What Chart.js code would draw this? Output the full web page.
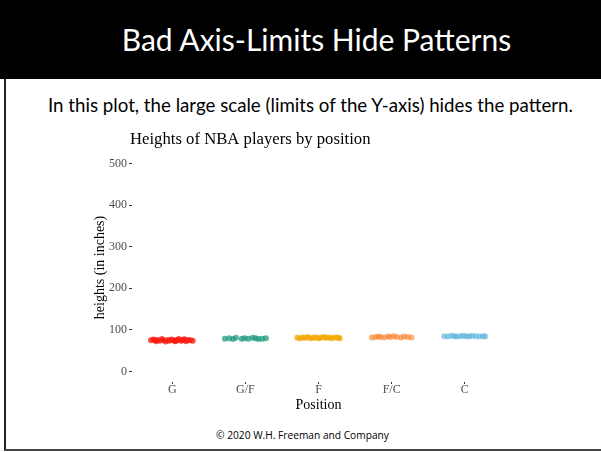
<!DOCTYPE html>
<html>
<head>
<title>Bad Axis-Limits Hide Patterns</title>
<script src="https://cdn.jsdelivr.net/npm/chart.js"></script>
<style>
  body { margin: 0; width: 601px; height: 452px; position: relative; overflow: hidden; background: #fff; font-family: Lato, "Open Sans", sans-serif; }
  #head { position: absolute; left: 0; top: 0; width: 601px; height: 79px; background: #000; }
  #headText { position: absolute; left: 16px; top: 0; width: 601px; height: 79px; line-height: 79px; text-align: center; color: #fff; font-size: 30px; }
  #sub { position: absolute; left: 10px; top: 94px; width: 601px; text-align: center; font-size: 18.7px; color: #000; }
  #foot { position: absolute; left: 2px; top: 428px; width: 601px; text-align: center; font-size: 10.2px; font-family: "Open Sans", sans-serif; color: #000; }
  #leftLine { position: absolute; left: 4px; top: 79px; width: 2px; height: 372px; background: #222; }
  #bottomLine { position: absolute; left: 4px; top: 449px; width: 597px; height: 2px; background: #444; }
  #wrap { position: absolute; left: 86px; top: 126px; width: 423px; height: 292px; }
</style>
</head>
<body>
  <div id="head"></div>
  <div id="headText">Bad Axis-Limits Hide Patterns</div>
  <div id="sub">In this plot, the large scale (limits of the Y-axis) hides the pattern.</div>
  <div id="leftLine"></div>
  <div id="bottomLine"></div>
  <div id="wrap"><canvas id="myChart"></canvas></div>
  <div id="foot">© 2020 W.H. Freeman and Company</div>
<script>
  const chartTitle = 'Heights of NBA players by position';
  const positions = ['G', 'G/F', 'F', 'F/C', 'C'];
  const yTicks = [0, 100, 200, 300, 400, 500];

  // horizontal jitter (in category units) and heights (inches) per position
  const gJitter  = [-0.29, -0.26, -0.22, -0.2, -0.17, -0.14, -0.12, -0.09, -0.06, -0.04, -0.01, 0.02, 0.04, 0.07, 0.09, 0.12, 0.14, 0.17, 0.19, 0.22, 0.25, 0.28, -0.24, 0.05, 0.16];
  const gHeights = [75, 77, 73, 76, 74, 78, 75, 72, 76, 74, 77, 75, 73, 76, 78, 74, 75, 77, 73, 76, 75, 74, 76, 74, 77];
  const gfJitter  = [-0.28, -0.22, -0.17, -0.13, -0.05, -0.01, 0.04, 0.1, 0.14, 0.18, 0.23, 0.28];
  const gfHeights = [79, 80, 78, 81, 79, 80, 79, 81, 80, 78, 79, 80];
  const fJitter  = [-0.29, -0.25, -0.21, -0.18, -0.14, -0.11, -0.07, -0.04, 0, 0.03, 0.07, 0.1, 0.13, 0.17, 0.2, 0.24, 0.27, 0.29];
  const fHeights = [81, 80, 82, 81, 83, 80, 81, 82, 80, 81, 83, 81, 82, 80, 81, 82, 81, 80];
  const fcJitter  = [-0.27, -0.22, -0.18, -0.15, -0.1, -0.05, -0.02, 0.03, 0.07, 0.13, 0.17, 0.22, 0.27];
  const fcHeights = [82, 83, 84, 83, 82, 84, 83, 85, 83, 82, 84, 83, 82];
  const cJitter  = [-0.28, -0.23, -0.18, -0.14, -0.11, -0.06, -0.02, 0.02, 0.06, 0.1, 0.15, 0.2, 0.25, 0.28];
  const cHeights = [85, 84, 86, 85, 84, 85, 86, 85, 84, 86, 85, 84, 85, 84];

  const colors = ['rgba(250,25,15,0.75)', 'rgba(20,150,120,0.7)', 'rgba(243,165,0,0.75)', 'rgba(248,125,35,0.6)', 'rgba(80,175,215,0.6)'];
  const jitters = [gJitter, gfJitter, fJitter, fcJitter, cJitter];
  const heights = [gHeights, gfHeights, fHeights, fcHeights, cHeights];

  const serif = '"Liberation Serif", "Times New Roman", serif';

  const panelTitle = {
    id: 'panelTitle',
    afterDraw(chart) {
      const ctx = chart.ctx;
      ctx.save();
      ctx.font = '16.7px ' + serif;
      ctx.fillStyle = '#000';
      ctx.textBaseline = 'middle';
      ctx.fillText(chartTitle, chart.chartArea.left - 2, 14);
      ctx.restore();
    }
  };

  const ctx = document.getElementById('myChart').getContext('2d');
  new Chart(ctx, {
    type: 'scatter',
    data: {
      datasets: positions.map((p, i) => ({
        label: p,
        data: heights[i].map((h, k) => ({ x: i + 1 + jitters[i][k], y: h })),
        backgroundColor: colors[i],
        borderWidth: 0,
        pointRadius: 3
      }))
    },
    options: {
      responsive: true,
      maintainAspectRatio: false,
      animation: false,
      layout: { padding: { top: 27, right: 0, left: 0, bottom: 0 } },
      plugins: { legend: { display: false }, tooltip: { enabled: false } },
      scales: {
        x: {
          type: 'linear',
          min: 0.45,
          max: 5.55,
          afterBuildTicks: s => { s.ticks = positions.map((p, i) => ({ value: i + 1 })); },
          afterFit: s => { s.height = 36; },
          border: { display: false },
          grid: { drawOnChartArea: false, drawTicks: true, tickLength: 2, color: '#333' },
          ticks: { padding: 0, color: '#4d4d4d', font: { family: serif, size: 12, lineHeight: 1 }, callback: v => positions[v - 1] },
          title: { display: true, text: 'Position', color: '#000', font: { family: serif, size: 14 }, padding: { top: 0, bottom: 4 } }
        },
        y: {
          min: -25,
          max: 525,
          afterBuildTicks: s => { s.ticks = yTicks.map(v => ({ value: v })); },
          afterFit: s => { s.width = 46; },
          border: { display: false },
          grid: { drawOnChartArea: false, drawTicks: true, tickLength: 3, color: '#333' },
          ticks: { padding: 2, color: '#4d4d4d', font: { family: serif, size: 12 } },
          title: { display: true, text: 'heights (in inches)', color: '#000', font: { family: serif, size: 14 }, padding: { top: 6, bottom: 0 } }
        }
      }
    },
    plugins: [panelTitle]
  });
</script>
</body>
</html>
